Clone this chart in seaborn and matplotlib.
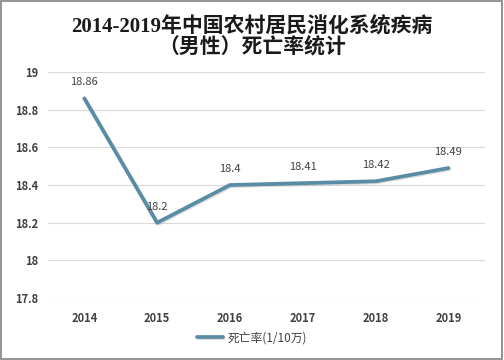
import matplotlib.pyplot as plt
import matplotlib.patheffects as pe
import seaborn as sns
import pandas as pd

# données
years = ['2014', '2015', '2016', '2017', '2018', '2019']
rates = [18.86, 18.2, 18.4, 18.41, 18.42, 18.49]
labels = ['18.86', '18.2', '18.4', '18.41', '18.42', '18.49']
yticks = [17.8, 18, 18.2, 18.4, 18.6, 18.8, 19]

df = pd.DataFrame({'year': years, 'rate': rates})

sns.set_style('white')
plt.rcParams['font.family'] = ['Noto Sans CJK SC', 'DejaVu Sans']

fig = plt.figure(figsize=(5.04, 3.6), dpi=100)
ax = fig.add_axes([0.095, 0.172, 0.867, 0.628])

line_color = '#5a8ca5'
sns.lineplot(data=df, x='year', y='rate', ax=ax, color=line_color, linewidth=2.7,
             label='死亡率(1/10万)', legend=False,
             path_effects=[pe.SimpleLineShadow(offset=(0.8, -0.8), shadow_color='#999999', alpha=0.35),
                           pe.Normal()])

for i, (v, t) in enumerate(zip(rates, labels)):
    ax.annotate(t, (i, v), xytext=(0, 8), textcoords='offset points',
                ha='center', va='bottom', fontsize=8, color='#404040')

ax.set_xlim(-0.5, 5.5)
ax.set_ylim(17.8, 19)
ax.set_yticks(yticks)
ax.set_yticklabels([f'{t:g}' for t in yticks])
ax.grid(axis='y', color='#d9d9d9', linewidth=0.8)
ax.set_axisbelow(True)
for s in ax.spines.values():
    s.set_visible(False)
ax.tick_params(length=0, pad=7, labelsize=8, labelcolor='#404040')
for lab in ax.get_xticklabels() + ax.get_yticklabels():
    lab.set_fontweight('bold')
ax.tick_params(axis='x', pad=10)
ax.set_xlabel('')
ax.set_ylabel('')

title_font = ['Liberation Serif', 'Noto Sans CJK SC']
fig.text(0.5, 0.925, '2014-2019年中国农村居民消化系统疾病', ha='center', va='center',
         fontsize=15, fontweight='bold', color='#1a1a1a', family=title_font)
fig.text(0.5, 0.865, '（男性）死亡率统计', ha='center', va='center',
         fontsize=15, fontweight='bold', color='#1a1a1a', family=title_font)

handles, lbls = ax.get_legend_handles_labels()
fig.legend(handles, lbls, loc='center', bbox_to_anchor=(0.5, 0.062), frameon=False,
           fontsize=8.5, handlelength=2.2, handletextpad=0.4, labelcolor='#404040')

fig.patches.append(plt.Rectangle((0.002, 0.003), 0.994, 0.993, transform=fig.transFigure,
                                 fill=False, edgecolor='#808080', linewidth=1.2))

fig.savefig('out.png', dpi=100)
